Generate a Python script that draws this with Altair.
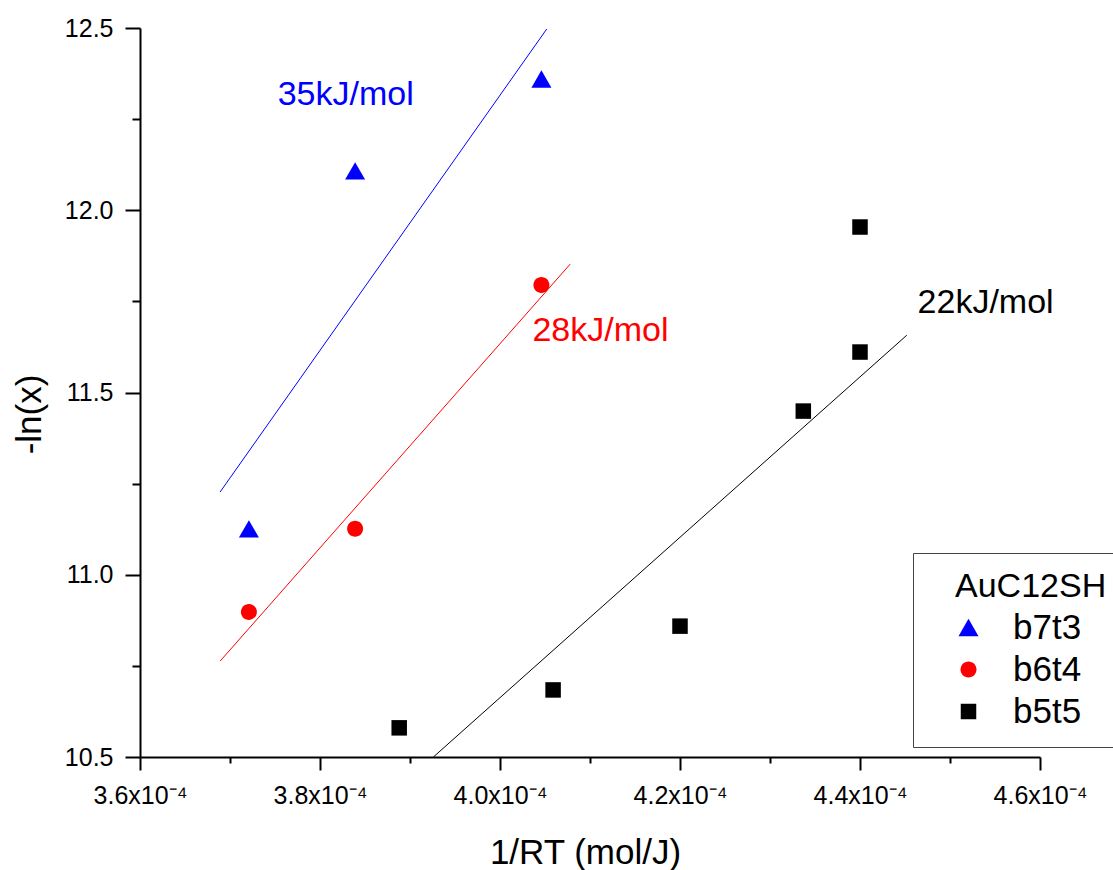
import altair as alt
import pandas as pd

# Series and their marker styling
series_names = ["b7t3", "b6t4", "b5t5"]
series_colors = ["#0000ff", "#ff0000", "#000000"]
# Unit-scaled symbol outlines: triangle 2 wide, circle 1.6 across, square 1.55 across
series_shapes = [
    "M-1,0.866L1,0.866L0,-0.866Z",
    "M0.8,0A0.8,0.8,0,1,1,-0.8,0A0.8,0.8,0,1,1,0.8,0Z",
    "M-0.775,-0.775L0.775,-0.775L0.775,0.775L-0.775,0.775Z",
]

# Measured points: 1/RT (mol/J) against -ln(x)
b7t3_x = [3.721e-4, 3.839e-4, 4.046e-4]
b7t3_y = [11.126, 12.108, 12.360]
b6t4_x = [3.721e-4, 3.839e-4, 4.046e-4]
b6t4_y = [10.898, 11.126, 11.795]
b5t5_x = [3.888e-4, 4.059e-4, 4.200e-4, 4.337e-4, 4.400e-4, 4.400e-4]
b5t5_y = [10.580, 10.684, 10.859, 11.449, 11.611, 11.954]

# Arrhenius fits: activation energy (kJ/mol) and the span each line covers
fit_energy_kj = [35, 28, 22]
fit_x_start = [3.689e-4, 3.689e-4, 3.926e-4]
fit_x_end = [4.052e-4, 4.078e-4, 4.452e-4]
fit_y_start = [11.227, 10.763, 10.500]

# Where each energy label sits (left edge, vertical centre)
label_x = [3.753e-4, 4.036e-4, 4.464e-4]
label_y = [12.316, 11.669, 11.746]

# Axis ticks
x_major_ticks = [3.6e-4, 3.8e-4, 4.0e-4, 4.2e-4, 4.4e-4, 4.6e-4]
x_minor_ticks = [3.7e-4, 3.9e-4, 4.1e-4, 4.3e-4, 4.5e-4]
y_major_ticks = [10.5, 11.0, 11.5, 12.0, 12.5]
y_minor_ticks = [10.75, 11.25, 11.75, 12.25]

FONT = "Liberation Sans"
X_DOMAIN = [3.6e-4, 4.6e-4]
Y_DOMAIN = [10.5, 12.5]

# ---- tables -------------------------------------------------------------
point_rows = []
for name, xs, ys in zip(series_names, [b7t3_x, b6t4_x, b5t5_x], [b7t3_y, b6t4_y, b5t5_y]):
    for xv, yv in zip(xs, ys):
        point_rows.append({"x": xv, "y": yv, "series": name})
points_df = pd.DataFrame(point_rows)

line_rows = []
for name, e, x0, x1, y0 in zip(series_names, fit_energy_kj, fit_x_start, fit_x_end, fit_y_start):
    slope = e * 1000.0  # d(-ln x)/d(1/RT) = Ea in J/mol
    line_rows.append({"x": x0, "y": y0, "series": name})
    line_rows.append({"x": x1, "y": y0 + slope * (x1 - x0), "series": name})
lines_df = pd.DataFrame(line_rows)

labels_df = pd.DataFrame({
    "x": label_x,
    "y": label_y,
    "series": series_names,
    "label": [f"{e}kJ/mol" for e in fit_energy_kj],
})

# ---- scales & axes ------------------------------------------------------
x_scale = alt.Scale(domain=X_DOMAIN, nice=False, zero=False)
y_scale = alt.Scale(domain=Y_DOMAIN, nice=False, zero=False)

x_major_axis = alt.Axis(
    orient="bottom",
    values=x_major_ticks,
    labelExpr="format(datum.value * 1e4, '.1f') + 'x10\u207b\u2074'",
    tickSize=13,
    labelPadding=13,
    titleX=445,
    titleY=95,
    titleBaseline="middle",
)
y_major_axis = alt.Axis(
    orient="left",
    values=y_major_ticks,
    format=".1f",
    tickSize=15,
    labelPadding=12,
    titleAngle=270,
    titleX=-111,
    titleY=386,
    titleBaseline="middle",
    titleAlign="center",
)
x_minor_axis = alt.Axis(orient="bottom", values=x_minor_ticks, tickSize=6,
                        labels=False, domain=False, title=None)
y_minor_axis = alt.Axis(orient="left", values=y_minor_ticks, tickSize=8,
                        labels=False, domain=False, title=None)

color_scale = alt.Scale(domain=series_names, range=series_colors)

# A blank braille cell indents the legend title past the box's inner padding
legend = alt.Legend(
    title="\u2800AuC12SH",
    orient="none",
    legendX=773,
    legendY=525,
    strokeColor="#444444",
    fillColor="white",
    padding=17,
    titleFontSize=34,
    titleFont=FONT,
    titleFontWeight="normal",
    titleColor="black",
    titlePadding=6,
    labelFontSize=35,
    labelFont=FONT,
    labelColor="black",
    rowPadding=6,
    labelOffset=27,
    symbolOffset=21,
    symbolSize=400,
    symbolStrokeWidth=0,
)

# ---- layers -------------------------------------------------------------
points = alt.Chart(points_df).mark_point(filled=True, opacity=1, strokeWidth=0, size=400).encode(
    x=alt.X("x:Q", title="1/RT (mol/J)", scale=x_scale, axis=x_major_axis),
    y=alt.Y("y:Q", title="-ln(x)", scale=y_scale, axis=y_major_axis),
    color=alt.Color("series:N", scale=color_scale, legend=legend, sort=series_names),
    shape=alt.Shape("series:N", scale=alt.Scale(domain=series_names, range=series_shapes),
                    legend=legend, sort=series_names),
)

fits = alt.Chart(lines_df).mark_line(strokeWidth=1, clip=True).encode(
    x=alt.X("x:Q", scale=x_scale, axis=x_minor_axis),
    y=alt.Y("y:Q", scale=y_scale, axis=y_minor_axis),
    color=alt.Color("series:N", scale=color_scale, legend=None),
)

labels = alt.Chart(labels_df).mark_text(
    align="left", baseline="middle", fontSize=34, font=FONT
).encode(
    x=alt.X("x:Q", scale=x_scale, axis=None),
    y=alt.Y("y:Q", scale=y_scale, axis=None),
    text="label:N",
    color=alt.Color("series:N", scale=color_scale, legend=None),
)

chart = (
    alt.layer(points, fits, labels)
    .resolve_axis(x="independent", y="independent")
    .properties(
        width=900,
        height=729,
        autosize=alt.AutoSizeParams(type="none"),
        padding={"left": 140, "top": 28, "right": 73, "bottom": 113},
        background="white",
    )
    .configure_view(stroke=None)
    .configure_axis(
        domainColor="black",
        domainWidth=2,
        tickColor="black",
        tickWidth=2,
        grid=False,
        labelFont=FONT,
        labelFontSize=25,
        labelColor="black",
        labelFlush=False,
        labelOverlap=False,
        titleFont=FONT,
        titleFontSize=35,
        titleFontWeight="normal",
        titleColor="black",
    )
)

chart.save("out.html", embed_options={"renderer": "svg", "actions": False})
